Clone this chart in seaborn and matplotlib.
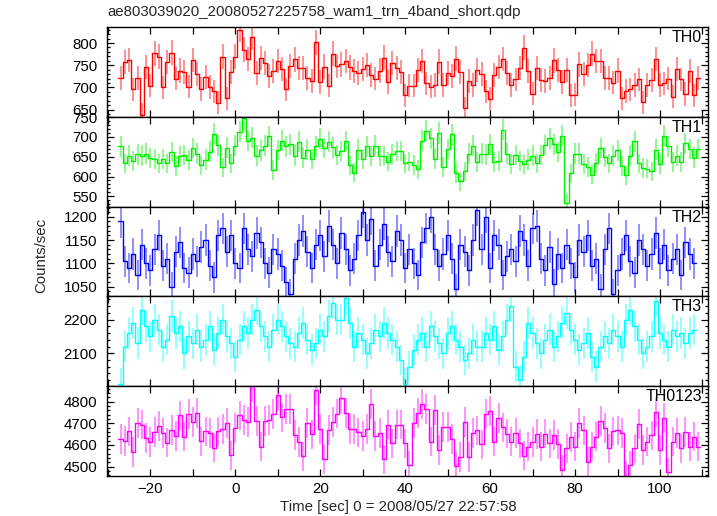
import numpy as np
import pandas as pd
import matplotlib
matplotlib.use("Agg")
import matplotlib.pyplot as plt
from matplotlib.ticker import MultipleLocator, FuncFormatter
import seaborn as sns

title = "ae803039020_20080527225758_wam1_trn_4band_short.qdp"
xlabel = "Time [sec] 0 = 2008/05/27 22:57:58"
ylabel = "Counts/sec"
panel_names = ["TH0", "TH1", "TH2", "TH3", "TH0123"]
panel_colors = ["#ff0000", "#00ee00", "#0000ff", "#00ffff", "#ff00ff"]
t_start = -27.0
bin_width = 1.0

th0 = [722, 757, 762, 696, 721, 639, 746, 704, 777, 769, 700, 757, 778, 720, 738, 734, 702, 762, 731, 697,
       723, 701, 691, 666, 769, 676, 734, 769, 830, 785, 764, 813, 733, 766, 755, 725, 737, 760, 742, 696,
       749, 763, 744,
       744, 722, 715, 802, 713, 747, 704, 776, 749, 752, 759, 745, 737, 733, 742, 750, 729, 720, 738, 767,
       712, 755, 744, 734, 682, 704, 704, 739, 759, 709, 702, 706, 758, 705, 733, 726, 765, 734, 653, 714,
       705, 740, 731, 691, 675, 728, 746,
       764, 733, 705, 718, 743, 789, 737, 686, 744, 716, 714, 722, 761, 739, 713, 739, 682, 684, 752, 731,
       750, 776, 759, 760, 722, 722, 711, 738, 676, 692, 696, 705, 718, 667, 705, 716, 764, 705, 709, 720,
       679, 742, 718, 685, 737, 682, 722]

th1 = [676, 633, 653, 639, 656, 653, 658, 647, 645, 633, 644, 633, 662, 626, 652, 654, 641, 672, 658, 628,
       643, 663, 708, 679, 623, 673, 633, 678, 713, 747, 691, 698, 653, 666, 678, 702, 616, 667, 691, 676,
       681, 653, 688, 648, 668, 645, 676, 696, 672, 688, 674, 654, 665, 690, 628, 610, 668, 644, 676, 651,
       678, 651, 651, 638, 656, 665, 665, 633, 638, 629, 618, 691, 716, 697, 645, 710, 624, 670, 707, 609,
       588, 613, 658, 678, 637, 658, 656, 681, 637, 639, 718, 658, 632, 655, 640, 631, 643, 653, 633, 655,
       680, 697, 681, 662, 703, 532, 608, 658, 658, 631, 624, 605, 635, 672, 650, 633, 653, 666, 627, 603,
       653, 689, 633, 622, 620, 613, 668, 631, 703, 676, 637, 653, 637, 684, 670, 648, 670]

th2 = [1190, 1105, 1090, 1120, 1075, 1140, 1100, 1085, 1130, 1160, 1095, 1110, 1050, 1125, 1145, 1090, 1080,
       1120, 1105, 1135, 1150, 1095, 1070, 1160, 1175, 1125, 1160, 1100, 1090, 1175, 1130, 1115, 1165, 1145,
       1100, 1080, 1130, 1120, 1095, 1060, 1035, 1110, 1150, 1170, 1125, 1090, 1140, 1160, 1115, 1180, 1140,
       1100, 1165, 1130, 1085, 1110, 1160, 1210, 1150, 1195, 1095, 1140, 1185, 1125, 1105, 1170, 1150, 1090,
       1130, 1100, 1075, 1145, 1175, 1200, 1130, 1095, 1120, 1160, 1110, 1045, 1140, 1125, 1085, 1150, 1215,
       1130, 1200, 1090, 1160, 1140, 1075, 1115, 1130, 1105, 1170, 1150, 1095, 1175, 1180, 1110, 1085, 1135,
       1055, 1120, 1090, 1140, 1100, 1070, 1150, 1125, 1160, 1095, 1110, 1045, 1130, 1175, 1035, 1085, 1120,
       1160, 1105, 1080, 1150, 1130, 1095, 1120, 1165, 1100, 1140, 1085, 1110, 1130, 1075, 1145, 1120, 1100]

th3 = [2010, 2120, 2160, 2190, 2130, 2230, 2180, 2150, 2200, 2170, 2120, 2140, 2210, 2160, 2180, 2100, 2150,
       2130, 2170, 2120, 2140, 2180, 2110, 2160, 2200, 2150, 2130, 2090, 2140, 2180, 2160, 2200, 2230, 2180,
       2150, 2120, 2170, 2200, 2180, 2150, 2130, 2120, 2160, 2190, 2140, 2110, 2130, 2170, 2150, 2210, 2250,
       2200, 2200, 2265, 2190, 2120, 2160, 2140, 2100, 2130, 2170, 2150, 2190, 2160, 2140, 2120, 2080, 2010,
       2060, 2110, 2140, 2160, 2120, 2180, 2150, 2130, 2100, 2160, 2180, 2140, 2120, 2080, 2100, 2140, 2120,
       2120, 2160, 2140, 2180, 2110, 2150, 2200, 2240, 2060, 2020, 2090, 2190, 2160, 2130, 2100, 2140, 2170,
       2120, 2150, 2190, 2220, 2170, 2140, 2110, 2130, 2160, 2090, 2060, 2120, 2150, 2130, 2170, 2150, 2120,
       2200, 2230, 2180, 2140, 2100, 2120, 2150, 2255, 2160, 2140, 2120, 2170, 2150, 2160, 2130, 2160, 2170]

th0123 = [4627, 4619, 4663, 4567, 4702, 4694, 4631, 4613, 4659, 4688, 4655, 4611, 4670, 4642, 4736, 4639,
          4744, 4706, 4748, 4617, 4663, 4655, 4588, 4663, 4675, 4700, 4553, 4677, 4736, 4716, 4706, 4870,
          4709, 4592, 4709, 4714, 4744, 4831, 4727, 4764, 4767, 4647, 4613, 4547, 4702, 4649, 4855, 4673,
          4534, 4670, 4706, 4745, 4816, 4748, 4673, 4673, 4658, 4642, 4675, 4788, 4642, 4655, 4534, 4694,
          4608, 4694, 4694, 4608, 4506, 4702, 4748, 4791, 4764, 4616, 4761, 4577, 4683, 4683, 4627, 4502,
          4545, 4706, 4545, 4655, 4667, 4603, 4741, 4756, 4616, 4725, 4681, 4652, 4616, 4655, 4608, 4550,
          4592, 4613, 4650, 4592, 4652, 4608, 4647, 4605, 4486, 4584, 4636, 4592, 4702, 4667, 4522, 4592,
          4639, 4709, 4678, 4584, 4663, 4667, 4655, 4459, 4506, 4584, 4698, 4577, 4616, 4644, 4753, 4577,
          4725, 4475, 4616, 4655, 4584, 4659, 4592, 4639, 4592]

series = [th0, th1, th2, th3, th0123]
ylims = [(634, 836), (524, 751), (1029, 1222), (2002, 2269), (4457, 4871)]
ymajor = [50, 50, 50, 100, 100]
yminor = [10, 10, 10, 20, 20]

sns.set_theme(style="ticks")
plt.rcParams["font.family"] = ["Liberation Sans", "DejaVu Sans"]
plt.rcParams["axes.linewidth"] = 1.0

W, H = 717, 516
fig = plt.figure(figsize=(W / 100, H / 100), dpi=100)
axes = fig.subplots(5, 1, sharex=True, gridspec_kw={"hspace": 0})
fig.subplots_adjust(left=107 / W, right=708 / W, top=1 - 27 / H, bottom=1 - 476 / H)

for ax, vals, name, col, yl, ymj, ymn in zip(axes, series, panel_names, panel_colors, ylims, ymajor, yminor):
    v = np.asarray(vals, dtype=float)
    t = t_start + bin_width * np.arange(len(v))
    err = np.sqrt(v * bin_width) / bin_width
    t_step = np.concatenate([[t[0] - bin_width / 2], t, [t[-1] + bin_width / 2]])
    v_step = np.concatenate([[v[0]], v, [v[-1]]])
    df = pd.DataFrame({"t": t_step, "rate": v_step})
    ax.vlines(t, v - err, v + err, color=col, lw=1.1, alpha=0.55)
    sns.lineplot(data=df, x="t", y="rate", ax=ax, color=col, lw=1.0,
                 drawstyle="steps-mid", legend=False, sort=False)
    ax.set_ylim(*yl)
    ax.set_xlim(-30.2, 111.3)
    ax.set_xlabel("")
    ax.set_ylabel("")
    ax.yaxis.set_major_locator(MultipleLocator(ymj))
    ax.yaxis.set_minor_locator(MultipleLocator(ymn))
    ax.xaxis.set_major_locator(MultipleLocator(10))
    ax.tick_params(which="both", direction="in", top=True, right=True, colors="black",
                   labelsize=10.8, width=0.9)
    ax.tick_params(which="major", length=5)
    ax.tick_params(axis="y", which="major", pad=7)
    ax.tick_params(axis="x", which="major", pad=4)
    ax.tick_params(which="minor", length=2.5)
    for s in ax.spines.values():
        s.set_color("black")
    ax.text(1 - 6 / 601, 1 - 3 / 90, name, transform=ax.transAxes, ha="right", va="top",
            fontsize=11.5, color="black")

axes[-1].xaxis.set_major_formatter(FuncFormatter(
    lambda x, p: ("\u2212%d" % abs(x) if x < 0 else "%d" % x) if round(x) % 20 == 0 else ""))

fig.text(107 / W, 1 - 12 / H, title, ha="left", va="center", fontsize=10.8)
fig.text(41 / W, 1 - 255 / H, ylabel, rotation=90, ha="center", va="center", fontsize=10.8)
fig.text(398 / W, 1 - 507 / H, xlabel, ha="center", va="center", fontsize=10.8)

fig.savefig("out.png", dpi=100)
